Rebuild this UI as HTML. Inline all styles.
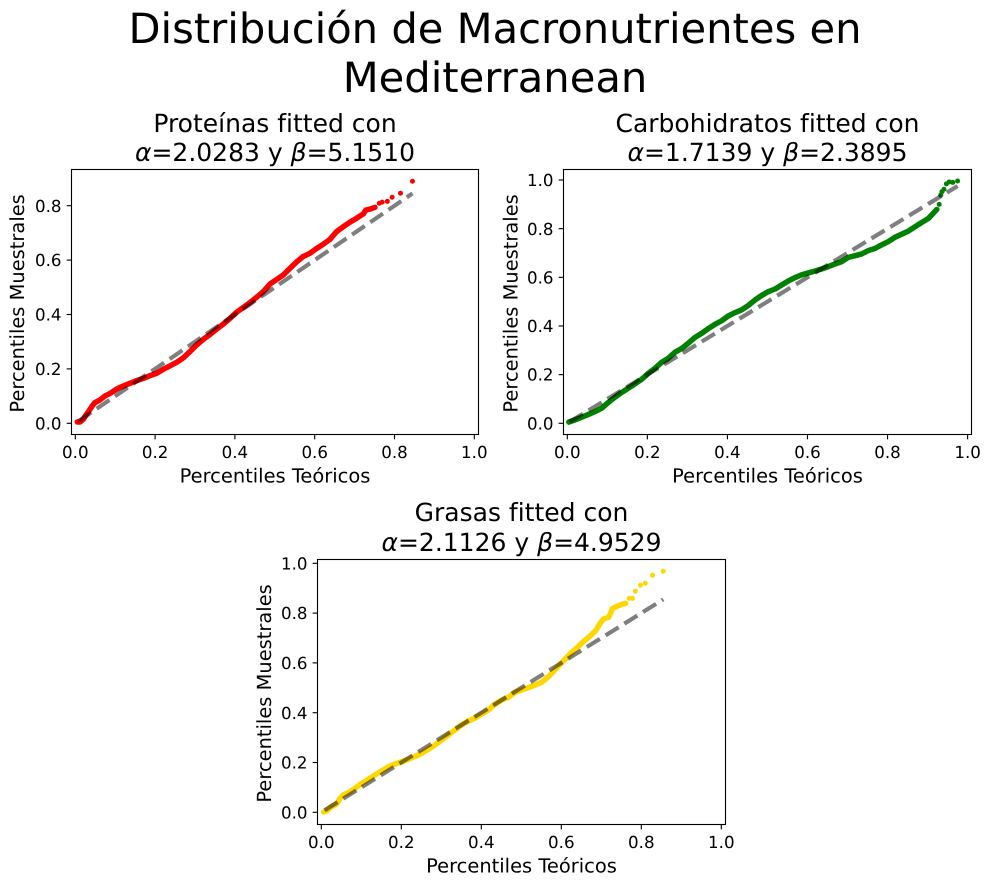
<!DOCTYPE html>
<html lang="es">
<head>
<meta charset="utf-8">
<title>Distribución de Macronutrientes en Mediterranean</title>
<style>
html,body{margin:0;padding:0;background:#fff;}
body{width:989px;height:886px;overflow:hidden;}
svg{display:block;font-family:"DejaVu Sans","Liberation Sans",sans-serif;fill:#000;}
text{text-rendering:geometricPrecision;}
</style>
</head>
<body>
<svg id="chart" xmlns="http://www.w3.org/2000/svg" width="989" height="886" viewBox="0 0 989 886">
  <g font-size="41.67" text-anchor="middle">
    <text x="495" y="43">Distribución de Macronutrientes en</text>
    <text x="495" y="92">Mediterranean</text>
  </g>
  <g font-size="25" text-anchor="middle">
    <text x="275" y="132">Proteínas fitted con</text>
    <text x="275" y="161"><tspan font-style="italic">α</tspan>=2.0283 y <tspan font-style="italic">β</tspan>=5.1510</text>
  </g>
  <g font-size="25" text-anchor="middle">
    <text x="767.5" y="132">Carbohidratos fitted con</text>
    <text x="767.5" y="161"><tspan font-style="italic">α</tspan>=1.7139 y <tspan font-style="italic">β</tspan>=2.3895</text>
  </g>
  <g font-size="25" text-anchor="middle">
    <text x="521.5" y="521">Grasas fitted con</text>
    <text x="521.5" y="551"><tspan font-style="italic">α</tspan>=2.1126 y <tspan font-style="italic">β</tspan>=4.9529</text>
  </g>
</svg>
<script>
// Tick labels
const xTickValues = [0, 0.2, 0.4, 0.6, 0.8, 1.0];
const proteinasYTicks = [0, 0.2, 0.4, 0.6, 0.8];
const carbohidratosYTicks = [0, 0.2, 0.4, 0.6, 0.8, 1.0];
const grasasYTicks = [0, 0.2, 0.4, 0.6, 0.8, 1.0];

// Proteínas: merged run of dots, then separated tail dots
const proteinasRunX = [.005,.012,.020,.027,.033,.041,.049,.062,.074,.087,.104,.120,.137,.154,.170,.187,.204,.221,.237,.254,.271,.287,.304,.321,.338,.354,.371,.388,.404,.421,.438,.454,.471,.488,.505,.521,.538,.555,.571,.588,.605,.622,.638,.655,.672,.688,.705,.722,.728,.740,.751];
const proteinasRunY = [.005,.005,.015,.031,.043,.061,.076,.086,.100,.110,.126,.137,.147,.157,.165,.175,.184,.199,.211,.224,.241,.263,.288,.309,.327,.346,.365,.386,.408,.426,.444,.463,.484,.512,.529,.545,.570,.594,.613,.625,.643,.659,.676,.705,.723,.739,.754,.770,.784,.788,.794];
const proteinasTailX = [.762,.769,.782,.794,.815,.845];
const proteinasTailY = [.809,.813,.816,.831,.846,.890];
const proteinasRefLine = [.008,.845];

// Carbohidratos
const carbohidratosRunX = [.004,.019,.036,.052,.069,.086,.102,.119,.136,.152,.169,.186,.202,.219,.236,.252,.269,.286,.302,.319,.336,.352,.369,.386,.402,.419,.435,.452,.469,.485,.502,.519,.535,.552,.569,.585,.602,.619,.635,.652,.669,.685,.702,.719,.735,.752,.769,.785,.802,.818,.835,.852,.868,.885,.902,.914,.923];
const carbohidratosRunY = [.005,.014,.025,.036,.048,.062,.085,.107,.127,.144,.162,.181,.205,.226,.251,.267,.292,.308,.329,.353,.370,.389,.407,.422,.441,.455,.466,.484,.507,.525,.541,.552,.568,.585,.599,.610,.618,.626,.634,.644,.655,.664,.682,.689,.696,.710,.719,.733,.747,.764,.777,.790,.807,.825,.842,.863,.879];
const carbohidratosTailX = [.929,.933,.936,.941,.947,.954,.963,.975];
const carbohidratosTailY = [.900,.938,.952,.962,.984,.992,.990,.996];
const carbohidratosRefLine = [.006,.975];

// Grasas
const grasasRunX = [.006,.013,.026,.038,.047,.055,.068,.084,.101,.118,.134,.151,.168,.184,.201,.218,.234,.251,.268,.284,.301,.318,.334,.351,.368,.384,.401,.418,.434,.451,.468,.484,.501,.518,.534,.551,.568,.584,.601,.622,.638,.655,.672,.687,.697,.705,.718,.723,.728,.738,.751,.761];
const grasasRunY = [.001,.005,.023,.033,.056,.070,.079,.096,.116,.133,.150,.166,.183,.194,.203,.213,.224,.237,.254,.270,.290,.311,.331,.351,.367,.378,.395,.411,.434,.451,.462,.482,.491,.501,.511,.522,.545,.572,.601,.636,.659,.685,.708,.732,.759,.776,.783,.799,.819,.826,.835,.839];
const grasasTailX = [.770,.778,.785,.798,.810,.828,.855];
const grasasTailY = [.859,.859,.888,.912,.920,.952,.968];
const grasasRefLine = [.008,.855];

const SVG_NS = 'http://www.w3.org/2000/svg';
const root = document.getElementById('chart');

function el(tag, attrs, parent) {
  const node = document.createElementNS(SVG_NS, tag);
  for (const k in attrs) node.setAttribute(k, attrs[k]);
  parent.appendChild(node);
  return node;
}

function drawPanel(p) {
  const xAt = v => p.x0 + v * p.xk;
  const yAt = v => p.y0 - v * p.yk;

  const g = el('g', {}, root);
  
  

  // merged dots: thick stroke joining the overlapping run
  const runPts = p.runX.map((v, i) => xAt(v).toFixed(2) + ',' + yAt(p.runY[i]).toFixed(2)).join(' ');
  const run = el('polyline', {points: runPts, fill: 'none', stroke: p.color, 'stroke-width': 5.5, 'stroke-linejoin': 'round', 'stroke-linecap': 'round'}, g);
  
  

  const allX = p.runX.concat(p.tailX);
  const allY = p.runY.concat(p.tailY);
  allX.forEach((v, i) => {
    const c = el('circle', {cx: xAt(v).toFixed(2), cy: yAt(allY[i]).toFixed(2), r: 2.5, fill: p.color}, g);
    
    
  });

  // reference line y = x
  const ref = el('line', {x1: xAt(p.ref[0]), y1: yAt(p.ref[0]), x2: xAt(p.ref[1]), y2: yAt(p.ref[1]), stroke: '#000', 'stroke-opacity': 0.5, 'stroke-width': 4.17, 'stroke-dasharray': '15.4 6.67'}, g);
  
  

  // axes frame
  const frame = el('rect', {x: p.left, y: p.top, width: p.right - p.left, height: p.bottom - p.top, fill: 'none', stroke: '#000', 'stroke-width': 1.11}, g);
  
  

  // x ticks
  xTickValues.forEach(v => {
    const px = xAt(v);
    const t = el('line', {x1: px, x2: px, y1: p.bottom, y2: p.bottom + 4.86, stroke: '#000', 'stroke-width': 1.11}, g);
    
    
    const l = el('text', {x: px, y: p.bottom + 23.3, 'font-size': 16.67, 'text-anchor': 'middle'}, g);
    l.textContent = v.toFixed(1);
    
    
  });

  // y ticks
  p.yTicks.forEach(v => {
    const py = yAt(v);
    const t = el('line', {x1: p.left - 4.86, x2: p.left, y1: py, y2: py, stroke: '#000', 'stroke-width': 1.11}, g);
    
    
    const l = el('text', {x: p.left - 10, y: py + 6.1, 'font-size': 16.67, 'text-anchor': 'end'}, g);
    l.textContent = v.toFixed(1);
    
    
  });

  // axis titles
  const xl = el('text', {x: (p.left + p.right) / 2, y: p.bottom + 48, 'font-size': 19.44, 'text-anchor': 'middle'}, g);
  xl.textContent = 'Percentiles Teóricos';
  
  
  const yc = (p.top + p.bottom) / 2 + 1.4;
  const yl = el('text', {x: p.ylabelX, y: yc, 'font-size': 19.44, 'text-anchor': 'middle', transform: 'rotate(-90 ' + p.ylabelX + ' ' + yc + ')'}, g);
  yl.textContent = 'Percentiles Muestrales';
  
  
}

drawPanel({key: 'proteinas', color: '#ff0000', runX: proteinasRunX, runY: proteinasRunY, tailX: proteinasTailX, tailY: proteinasTailY, ref: proteinasRefLine, yTicks: proteinasYTicks,
  left: 71.5, right: 478.5, top: 169.5, bottom: 434.5, x0: 75.3, xk: 399, y0: 423.3, yk: 272, ylabelX: 24});
drawPanel({key: 'carbohidratos', color: '#008000', runX: carbohidratosRunX, runY: carbohidratosRunY, tailX: carbohidratosTailX, tailY: carbohidratosTailY, ref: carbohidratosRefLine, yTicks: carbohidratosYTicks,
  left: 563.5, right: 971.5, top: 169.5, bottom: 434.5, x0: 567.3, xk: 400.3, y0: 423.3, yk: 243.3, ylabelX: 517.5});
drawPanel({key: 'grasas', color: '#ffd700', runX: grasasRunX, runY: grasasRunY, tailX: grasasTailX, tailY: grasasTailY, ref: grasasRefLine, yTicks: grasasYTicks,
  left: 317.5, right: 725.5, top: 559.5, bottom: 824.5, x0: 321.3, xk: 400, y0: 812.3, yk: 249, ylabelX: 271});
</script>
</body>
</html>
